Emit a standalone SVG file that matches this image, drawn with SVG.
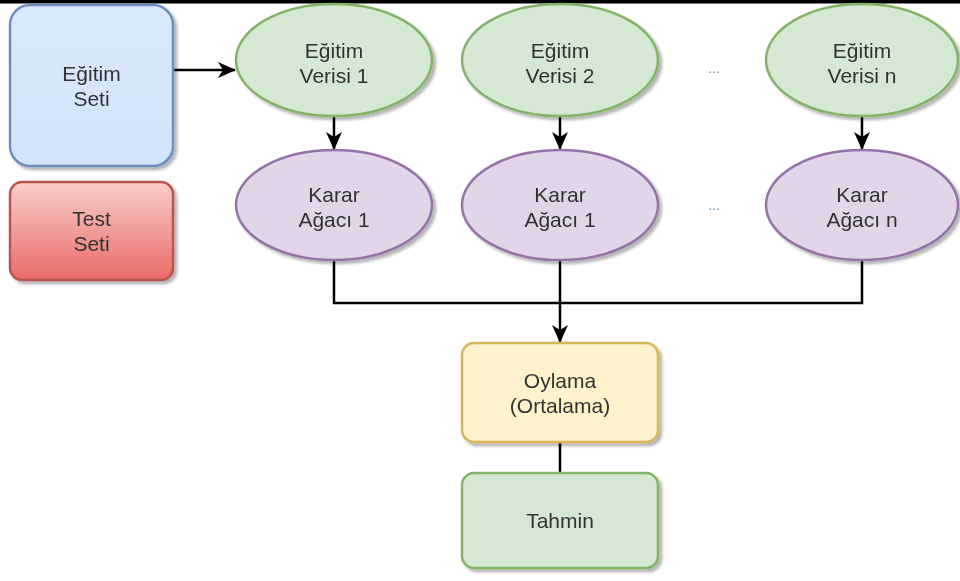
<svg xmlns="http://www.w3.org/2000/svg" width="960" height="581" viewBox="0 0 960 581">
  <defs>
    <filter id="shadow" x="-10%" y="-10%" width="130%" height="130%">
      <feGaussianBlur in="SourceAlpha" stdDeviation="1.5"/>
      <feOffset dx="3" dy="3" result="b"/>
      <feComponentTransfer><feFuncA type="linear" slope="0.3"/></feComponentTransfer>
      <feMerge><feMergeNode/><feMergeNode in="SourceGraphic"/></feMerge>
    </filter>
    <linearGradient id="redGrad" x1="0" y1="0" x2="0" y2="1">
      <stop offset="0" stop-color="#f8cecc"/>
      <stop offset="1" stop-color="#ea6b66"/>
    </linearGradient>
    <linearGradient id="blueGrad" x1="0" y1="0" x2="0" y2="1">
      <stop offset="0" stop-color="#dae8fc"/>
      <stop offset="1" stop-color="#d2e3fa"/>
    </linearGradient>
    <marker id="arrow" viewBox="0 0 18 16" refX="17" refY="8" markerWidth="18" markerHeight="16" markerUnits="userSpaceOnUse" orient="auto">
      <path d="M0,0 L18,8 L0,16 L5,8 Z" fill="#000"/>
    </marker>
    <style>
      .lbl { font-family: "Liberation Sans", Arial, sans-serif; font-size: 21px; fill: #333; text-anchor: middle; }
      .dots { font-family: "Liberation Sans", Arial, sans-serif; font-size: 14px; fill: #888; text-anchor: middle; }
      .edge { fill: none; stroke: #000; stroke-width: 2.5; }
      .green { fill: #d5e8d4; stroke: #82b366; stroke-width: 2.5; }
      .purple { fill: #e1d5e7; stroke: #9673a6; stroke-width: 2.5; }
      .yellow { fill: #fff2cc; stroke: #d6b656; stroke-width: 2.5; }
    </style>
  </defs>

  <rect x="0" y="0" width="960" height="581" fill="#fff"/>
  <!-- top border strip -->
  <rect x="0" y="0" width="960" height="3.5" fill="#000"/>

  <!-- connectors -->
  <g id="connectors">
    <line class="edge" x1="174" y1="70" x2="235" y2="70" marker-end="url(#arrow)"/>
    <line class="edge" x1="334" y1="116" x2="334" y2="149" marker-end="url(#arrow)"/>
    <line class="edge" x1="560" y1="116" x2="560" y2="149" marker-end="url(#arrow)"/>
    <line class="edge" x1="862" y1="116" x2="862" y2="149" marker-end="url(#arrow)"/>
    <polyline class="edge" points="334,261 334,303 862,303 862,261"/>
    <line class="edge" x1="560" y1="261" x2="560" y2="342" marker-end="url(#arrow)"/>
    <line class="edge" x1="560" y1="442" x2="560" y2="473"/>
  </g>

  <g id="egitim-seti" filter="url(#shadow)">
    <rect x="10" y="5" width="163" height="161" rx="20" fill="url(#blueGrad)" stroke="#6c8ebf" stroke-width="2.5"/>
    <text class="lbl" x="91.5" y="81">Eğitim</text>
    <text class="lbl" x="91.5" y="106">Seti</text>
  </g>

  <g id="test-seti" filter="url(#shadow)">
    <rect x="10" y="182" width="163" height="98" rx="12" fill="url(#redGrad)" stroke="#b85450" stroke-width="2.5"/>
    <text class="lbl" x="91.5" y="226">Test</text>
    <text class="lbl" x="91.5" y="251">Seti</text>
  </g>

  <g id="egitim-verisi-1" filter="url(#shadow)">
    <ellipse class="green" cx="334" cy="60" rx="98" ry="56"/>
    <text class="lbl" x="334" y="58">Eğitim</text>
    <text class="lbl" x="334" y="83">Verisi 1</text>
  </g>

  <g id="egitim-verisi-2" filter="url(#shadow)">
    <ellipse class="green" cx="560" cy="60" rx="98" ry="56"/>
    <text class="lbl" x="560" y="58">Eğitim</text>
    <text class="lbl" x="560" y="83">Verisi 2</text>
  </g>

  <g id="egitim-verisi-n" filter="url(#shadow)">
    <ellipse class="green" cx="862" cy="60" rx="96" ry="56"/>
    <text class="lbl" x="862" y="58">Eğitim</text>
    <text class="lbl" x="862" y="83">Verisi n</text>
  </g>

  <g id="dots-top">
    <text class="dots" x="714" y="73">...</text>
  </g>

  <g id="karar-agaci-1" filter="url(#shadow)">
    <ellipse class="purple" cx="334" cy="205" rx="98" ry="55"/>
    <text class="lbl" x="334" y="202">Karar</text>
    <text class="lbl" x="334" y="227">Ağacı 1</text>
  </g>

  <g id="karar-agaci-2" filter="url(#shadow)">
    <ellipse class="purple" cx="560" cy="205" rx="98" ry="55"/>
    <text class="lbl" x="560" y="202">Karar</text>
    <text class="lbl" x="560" y="227">Ağacı 1</text>
  </g>

  <g id="karar-agaci-n" filter="url(#shadow)">
    <ellipse class="purple" cx="862" cy="205" rx="96" ry="55"/>
    <text class="lbl" x="862" y="202">Karar</text>
    <text class="lbl" x="862" y="227">Ağacı n</text>
  </g>

  <g id="dots-bottom">
    <text class="dots" x="714" y="210">...</text>
  </g>

  <g id="oylama" filter="url(#shadow)">
    <rect class="yellow" x="462" y="343" width="196" height="99" rx="12"/>
    <text class="lbl" x="560" y="388">Oylama</text>
    <text class="lbl" x="560" y="413">(Ortalama)</text>
  </g>

  <g id="tahmin" filter="url(#shadow)">
    <rect class="green" x="462" y="473" width="196" height="95" rx="12"/>
    <text class="lbl" x="560" y="528">Tahmin</text>
  </g>
</svg>
